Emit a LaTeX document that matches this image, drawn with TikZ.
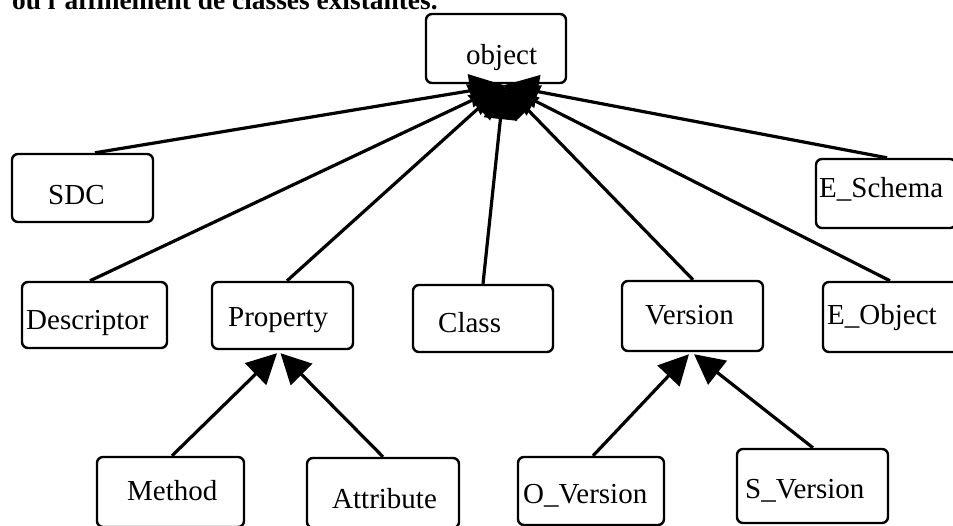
\documentclass[tikz,border=0pt]{standalone}
\usepackage{fontspec}
\setmainfont{Liberation Serif}
\usetikzlibrary{arrows.meta}
\begin{document}
\begin{tikzpicture}[x=1pt,y=-1pt,
  box/.style={draw, line width=2.4pt, rounded corners=6pt, inner sep=0pt, fill=white},
  lbl/.style={anchor=base west, inner sep=0pt, font=\fontsize{29}{29}\selectfont},
  inh/.style={line width=3.2pt, -{Triangle[length=34pt,width=33pt]}},
  subinh/.style={line width=3.2pt, -{Triangle[length=30pt,width=30pt]}}]
\clip (0,0) rectangle (953,526);
\fill[white] (0,0) rectangle (953,526);
% caption line (cut off at top, as in the reference)
\node[anchor=base west, inner sep=0pt, font=\bfseries\fontsize{27.4}{27.4}\selectfont] (cap) at (12,10) {ou l'affinement de classes existantes.};
% boxes
\node[box, minimum width=140pt, minimum height=69pt] (obj)  at (496,48.5) {};
\node[box, minimum width=141pt, minimum height=68pt] (sdc)  at (82.5,188) {};
\node[box, minimum width=140pt, minimum height=69pt] (esch) at (886,193.5) {};
\node[box, minimum width=145pt, minimum height=66pt] (desc) at (94.5,315) {};
\node[box, minimum width=141pt, minimum height=67pt] (prop) at (282.5,315.5) {};
\node[box, minimum width=140pt, minimum height=67pt] (cls)  at (483,318.5) {};
\node[box, minimum width=141pt, minimum height=70pt] (ver)  at (692.5,316) {};
\node[box, minimum width=140pt, minimum height=70pt] (eobj) at (893,317) {};
\node[box, minimum width=147pt, minimum height=70pt] (meth) at (170.5,492) {};
\node[box, minimum width=152pt, minimum height=70pt] (attr) at (383,493) {};
\node[box, minimum width=146pt, minimum height=68pt] (over) at (591,491) {};
\node[box, minimum width=151pt, minimum height=74pt] (sver) at (812.5,486) {};
% labels
\node[lbl] (tobj)  at (466,65)  {object};
\node[lbl] (tsdc)  at (48,205)  {SDC};
\node[lbl] (tesch) at (819,198) {E\_Schema};
\node[lbl] (tdesc) at (26,330)  {Descriptor};
\node[lbl] (tprop) at (228,327) {Property};
\node[lbl] (tcls)  at (438,333) {Class};
\node[lbl] (tver)  at (645,325) {Version};
\node[lbl] (teobj) at (827,325) {E\_Object};
\node[lbl] (tmeth) at (127,500) {Method};
\node[lbl] (tattr) at (332,508) {Attribute};
\node[lbl] (tover) at (523,503) {O\_Version};
\node[lbl] (tsver) at (745,498) {S\_Version};
% connectors to object
\coordinate (hub) at ([xshift=8pt,yshift=-1pt]obj.south);
\draw[inh] ([xshift=12.5pt]sdc.north) -- (hub);
\draw[inh] ([xshift=-4.5pt]desc.north) -- (hub);
\draw[inh] ([xshift=4.5pt]prop.north) -- (hub);
\draw[inh] (cls.north) -- (hub);
\draw[inh] ([xshift=0.5pt]ver.north) -- (hub);
\draw[inh] ([xshift=-3pt]eobj.north) -- (hub);
\draw[inh] ([xshift=1pt]esch.north) -- (hub);
% sub-hierarchies
\draw[subinh] ([xshift=1.5pt]meth.north) -- ([xshift=-5.5pt,yshift=-3pt]prop.south);
\draw[subinh] (attr.north) -- ([xshift=-2pt,yshift=-3pt]prop.south);
\draw[subinh] ([xshift=2pt]over.north) -- ([xshift=-3.5pt,yshift=-2pt]ver.south);
\draw[subinh] ([xshift=0.5pt]sver.north) -- ([xshift=1.5pt,yshift=-2pt]ver.south);
\end{tikzpicture}
\end{document}
